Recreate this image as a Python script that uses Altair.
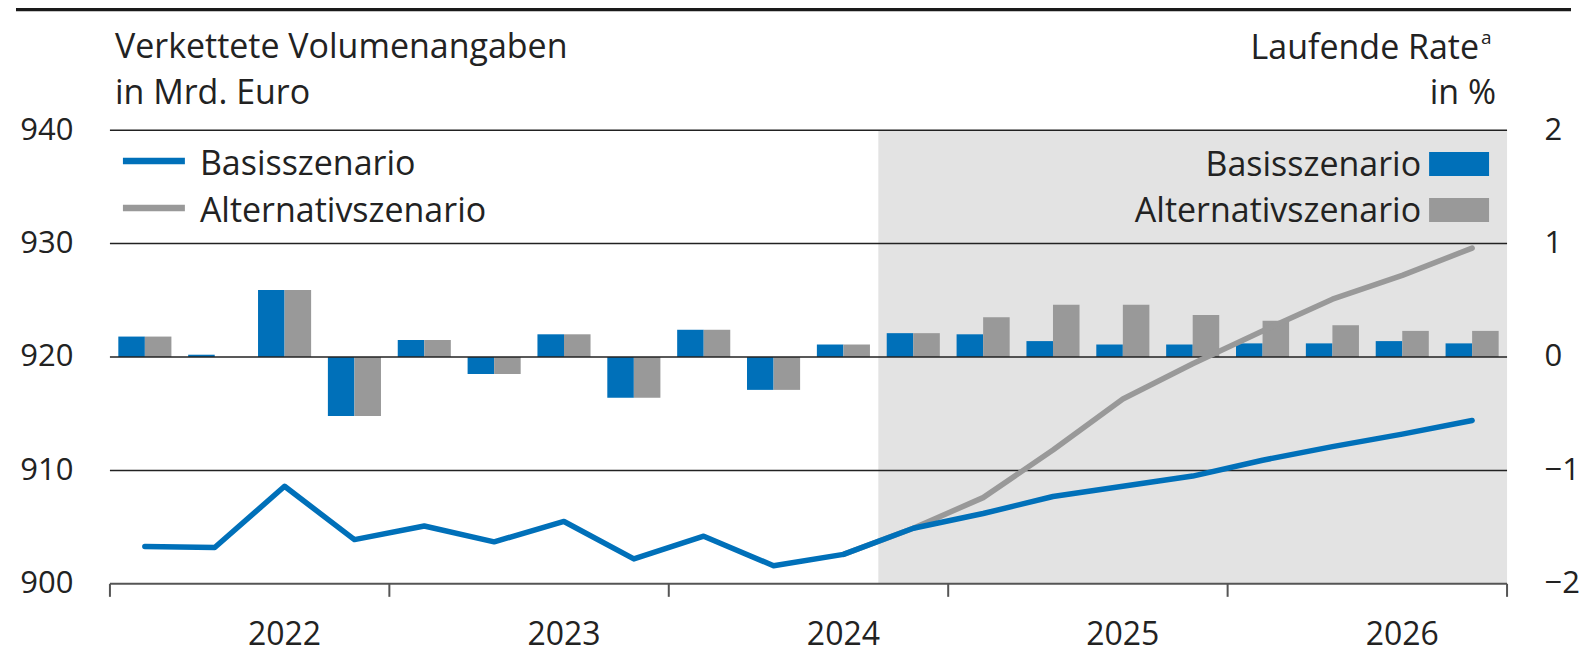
import altair as alt
import pandas as pd

# ---------------- data ----------------
quarters = ["2022Q1", "2022Q2", "2022Q3", "2022Q4",
            "2023Q1", "2023Q2", "2023Q3", "2023Q4",
            "2024Q1", "2024Q2", "2024Q3", "2024Q4",
            "2025Q1", "2025Q2", "2025Q3", "2025Q4",
            "2026Q1", "2026Q2", "2026Q3", "2026Q4"]

# chained volume, bn euro (left axis)
level_basis = [903.3, 903.2, 908.6, 903.9, 905.1, 903.7, 905.5, 902.2, 904.2, 901.6,
               902.6, 904.9, 906.2, 907.7, 908.6, 909.5, 910.9, 912.1, 913.2, 914.4]
level_alt = [None, None, None, None, None, None, None, None, None, None,
             902.6, 904.9, 907.6, 911.8, 916.3, 919.4, 922.3, 925.1, 927.2, 929.6]

# quarter-on-quarter rate, % (right axis)
rate_basis = [0.18, 0.02, 0.59, -0.52, 0.15, -0.15, 0.20, -0.36, 0.24, -0.29,
              0.11, 0.21, 0.20, 0.14, 0.11, 0.11, 0.12, 0.12, 0.14, 0.12]
rate_alt = [0.18, 0.0, 0.59, -0.52, 0.15, -0.15, 0.20, -0.36, 0.24, -0.29,
            0.11, 0.21, 0.35, 0.46, 0.46, 0.37, 0.32, 0.28, 0.23, 0.23]

years = ["2022", "2023", "2024", "2025", "2026"]
left_ticks = [900, 910, 920, 930, 940]
right_ticks = [-2, -1, 0, 1, 2]
grid_levels = [910, 920, 930, 940]
forecast_from = "2024Q4"

series_names = ["Basisszenario", "Alternativszenario"]

# ---------------- style ----------------
BLUE = "#0070b9"
GRAY = "#999999"
SHADE = "#e3e3e3"
INK = "#222222"
AXIS_GRAY = "#555555"
FONT = "Open Sans"
W, H = 1398, 454
BAR_L, BAR_M, BAR_R = 0.12, 0.5, 0.88
LABEL_POS = 2.5   # year label sits in the middle of Q3

n = len(quarters)
xscale = alt.Scale(domain=[0, n], nice=False, zero=False)
yL = alt.Scale(domain=[left_ticks[0], left_ticks[-1]], nice=False, zero=False)
yR = alt.Scale(domain=[right_ticks[0], right_ticks[-1]], nice=False, zero=False)
cscale = alt.Scale(domain=series_names, range=[BLUE, GRAY])

# ---------------- tables ----------------
rows = []
for i, q in enumerate(quarters):
    rows.append({"q": q, "series": series_names[0], "x0": i + BAR_L, "x1": i + BAR_M,
                 "rate": rate_basis[i], "base": 0})
    rows.append({"q": q, "series": series_names[1], "x0": i + BAR_M, "x1": i + BAR_R,
                 "rate": rate_alt[i], "base": 0})
bars_df = pd.DataFrame(rows)

lb = pd.DataFrame({"mid": [i + 0.5 for i in range(n)], "level": level_basis,
                   "series": series_names[0]})
la = pd.DataFrame({"mid": [i + 0.5 for i in range(n)], "level": level_alt,
                   "series": series_names[1]}).dropna()

shade_df = pd.DataFrame({"start": [quarters.index(forecast_from)], "end": [n]})
grid_df = pd.DataFrame({"v": grid_levels})
years_df = pd.DataFrame({"year": years,
                         "ymid": [4 * k + LABEL_POS for k in range(len(years))]})
bounds_df = pd.DataFrame({"b": [4 * k for k in range(len(years) + 1)]})
one = pd.DataFrame({"d": [0]})

# ---------------- layers ----------------
shade = alt.Chart(shade_df).mark_rect(color=SHADE).encode(
    x=alt.X("start:Q", scale=xscale, axis=None),
    x2="end:Q",
    y=alt.value(0), y2=alt.value(H),
)

bars = alt.Chart(bars_df).mark_rect().encode(
    x=alt.X("x0:Q", scale=xscale, axis=None),
    x2="x1:Q",
    y=alt.Y("rate:Q", scale=yR,
            axis=alt.Axis(orient="right", values=right_ticks, grid=False, domain=False,
                          ticks=False, labelPadding=37, title=None,
                          labelAlign="left",
                          labelExpr="datum.value < 0 ? '\u2212' + abs(datum.value) : datum.label")),
    y2="base:Q",
    color=alt.Color("series:N", scale=cscale, legend=None),
)

grid = alt.Chart(grid_df).mark_rule(color=INK, strokeWidth=1.5).encode(
    y=alt.Y("v:Q", scale=yL, axis=None)
)

# bottom axis line and year-boundary ticks
x_domain = alt.Chart(one).mark_rule(color=AXIS_GRAY, strokeWidth=2).encode(
    x=alt.value(0), x2=alt.value(W), y=alt.value(H))
x_ticks = alt.Chart(bounds_df).mark_rule(color=AXIS_GRAY, strokeWidth=2).encode(
    x=alt.X("b:Q", scale=xscale, axis=None),
    y=alt.value(H), y2=alt.value(H + 13),
)

line_alt = alt.Chart(la).mark_line(color=GRAY, strokeWidth=5.5, strokeJoin="round",
                                   strokeCap="round").encode(
    x=alt.X("mid:Q", scale=xscale, axis=None),
    y=alt.Y("level:Q", scale=yL, axis=None),
)

line_basis = alt.Chart(lb).mark_line(color=BLUE, strokeWidth=5.5, strokeJoin="round",
                                     strokeCap="round").encode(
    x=alt.X("mid:Q", scale=xscale, axis=None),
    y=alt.Y("level:Q", scale=yL,
            axis=alt.Axis(orient="left", values=left_ticks, grid=False, domain=False,
                          ticks=False, labelPadding=37, title=None)),
)

year_labels = alt.Chart(years_df).mark_text(font=FONT, fontSize=32, color=INK,
                                            baseline="alphabetic").encode(
    x=alt.X("ymid:Q", scale=xscale, axis=None),
    y=alt.value(H + 61),
    text="year:N",
)


def txt(s, x, y, align="left", size=34):
    return alt.Chart(one).mark_text(text=s, font=FONT, fontSize=size, color=INK,
                                    align=align, baseline="alphabetic").encode(
        x=alt.value(x), y=alt.value(y))


top_rule = alt.Chart(one).mark_rule(color="#1a1a1a", strokeWidth=4).encode(
    x=alt.value(-94), x2=alt.value(1462), y=alt.value(-121))

titles = [
    txt("Verkettete Volumenangaben", 5, -72),
    txt("in Mrd. Euro", 5, -26),
    txt("Laufende Rate", 1370, -71, align="right"),
    txt("a", 1372, -86, size=19),
    txt("in %", 1387, -26, align="right"),
]

leg_lines = [
    alt.Chart(one).mark_rule(color=BLUE, strokeWidth=6.5).encode(
        x=alt.value(13), x2=alt.value(75), y=alt.value(31)),
    alt.Chart(one).mark_rule(color=GRAY, strokeWidth=6.5).encode(
        x=alt.value(13), x2=alt.value(75), y=alt.value(78)),
    txt(series_names[0], 90, 45),
    txt(series_names[1], 90, 92),
]

leg_bars = [
    alt.Chart(one).mark_rect(color=BLUE).encode(
        x=alt.value(1320), x2=alt.value(1380), y=alt.value(22), y2=alt.value(46)),
    alt.Chart(one).mark_rect(color=GRAY).encode(
        x=alt.value(1320), x2=alt.value(1380), y=alt.value(68), y2=alt.value(92)),
    txt(series_names[0], 1312, 46, align="right"),
    txt(series_names[1], 1312, 92, align="right"),
]

chart = alt.layer(
    shade, bars, grid, x_domain, x_ticks, line_alt, line_basis, year_labels, top_rule,
    *titles, *leg_lines, *leg_bars,
).resolve_scale(
    y="independent"
).properties(
    width=W, height=H,
    padding={"left": 102, "top": 122, "right": 72, "bottom": 72},
    autosize=alt.AutoSizeParams(type="none"),
).configure_view(
    stroke=None
).configure_axis(
    labelFont=FONT, labelFontSize=31, labelColor=INK
)

chart.save("out.html", embed_options={"renderer": "svg", "actions": False})
